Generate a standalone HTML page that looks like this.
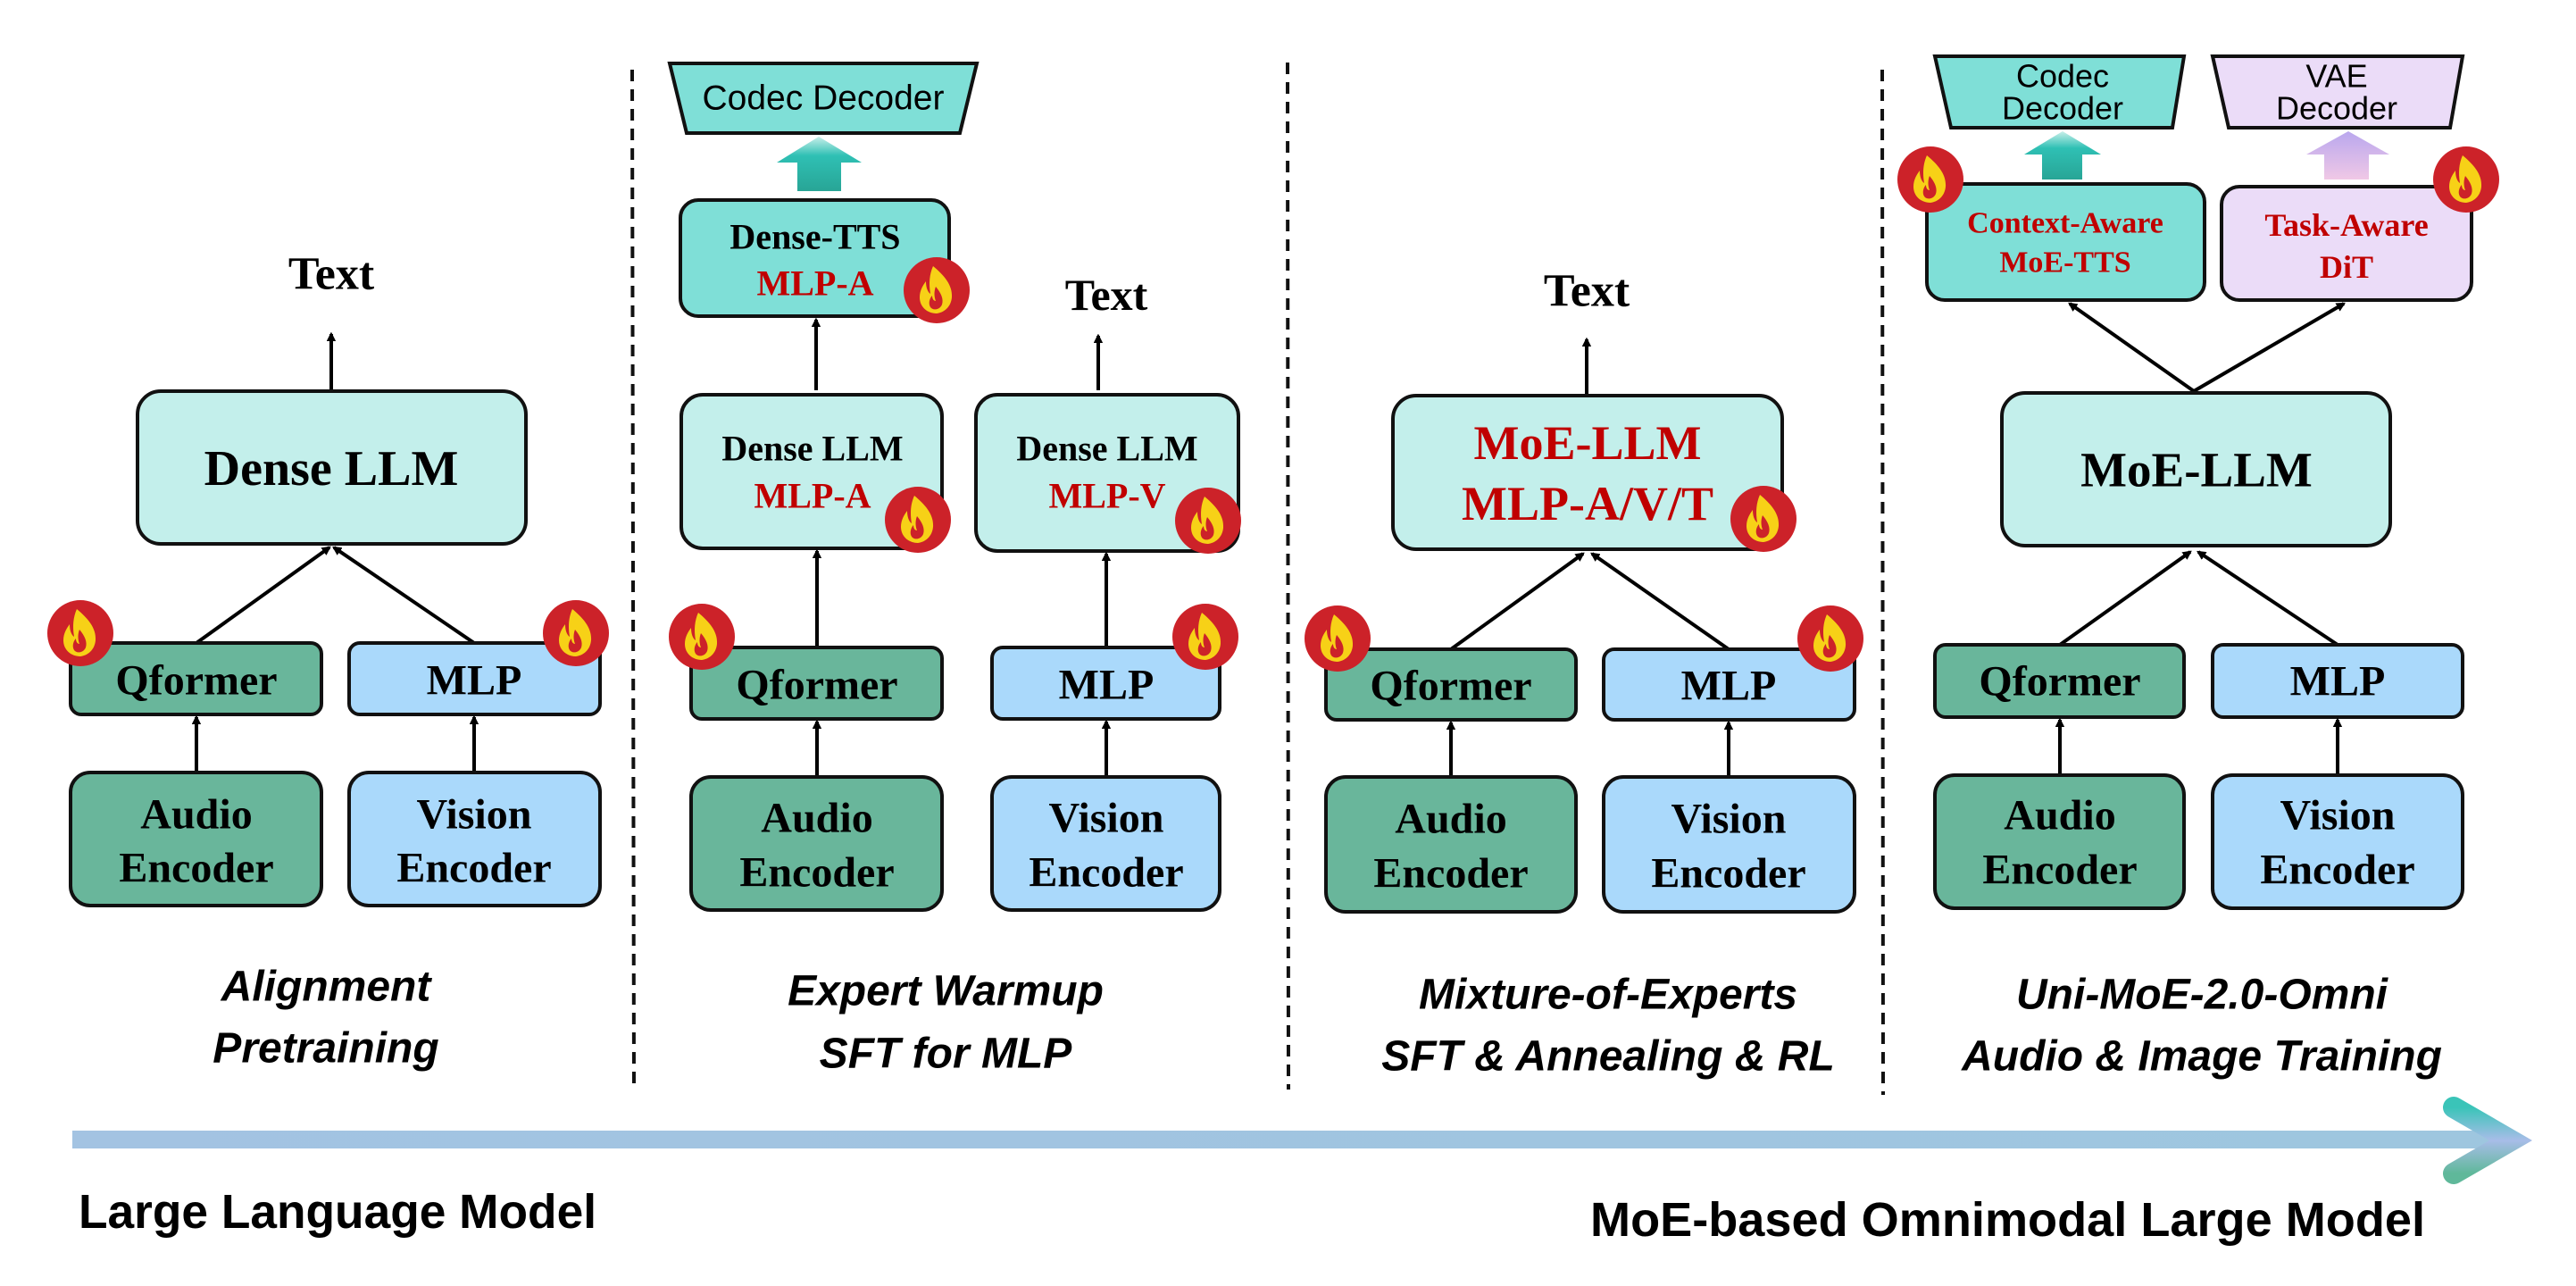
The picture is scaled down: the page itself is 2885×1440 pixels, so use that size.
<!DOCTYPE html>
<html><head><meta charset="utf-8"><style>html,body{margin:0;padding:0;background:#fff}svg{display:block}</style></head>
<body>
<svg width="2885" height="1440" viewBox="0 0 2885 1440" xmlns="http://www.w3.org/2000/svg">
<defs>
<g id="fire">
<circle cx="0" cy="0" r="37" fill="#cc2229"/>
<path d="M-4,-27 C8,-17 18,-6 17,8 C16,19 8,25 0,26 C-10,26 -19,19 -19,8 C-19,0 -15,-6 -12,-10 C-12,-3 -10,2 -7,4 C-9,-8 -8,-18 -4,-27 Z M10,-6 C13,0 14,6 12,12 C10,18 5,21 2,22 C7,16 9,7 10,-6 Z" fill="#f7d117"/>
<path d="M-1,-4 C5,3 8,10 6,16 C4,21 -2,23 -6,20 C-10,16 -8,9 -5,6 C-5,10 -3,12 -1,12 C-3,7 -3,1 -1,-4Z" fill="#cc2229"/>
</g>
<marker id="ah" markerWidth="10" markerHeight="10" refX="8" refY="5" orient="auto" markerUnits="userSpaceOnUse"><path d="M0,0 L10,5 L0,10 Z" fill="#000" transform="scale(1.3) translate(-2,-1.2)"/></marker>
<linearGradient id="tealUp" x1="0" y1="0" x2="0" y2="1"><stop offset="0" stop-color="#c8efea"/><stop offset="0.35" stop-color="#2fc0b4"/><stop offset="1" stop-color="#28a596"/></linearGradient>
<linearGradient id="purpUp" x1="0" y1="0" x2="0" y2="1"><stop offset="0" stop-color="#b9a7ee"/><stop offset="1" stop-color="#f0c8e6"/></linearGradient>
<linearGradient id="bar" x1="0" y1="0" x2="1" y2="0"><stop offset="0" stop-color="#a3c3e2"/><stop offset="1" stop-color="#9ec6df"/></linearGradient>
<linearGradient id="chev" x1="0" y1="0" x2="0" y2="1"><stop offset="0" stop-color="#3ac4b8"/><stop offset="0.5" stop-color="#a8bde8"/><stop offset="1" stop-color="#5fb89a"/></linearGradient>
</defs>
<style>
.b{stroke:#111;stroke-width:4}
.s{font-family:"Liberation Serif",serif;font-weight:bold;text-anchor:middle;dominant-baseline:central}
.c{font-family:"Liberation Sans",sans-serif;font-weight:bold;font-style:italic;text-anchor:middle;dominant-baseline:central;font-size:48px}
.d{font-family:"Liberation Sans",sans-serif;text-anchor:middle;dominant-baseline:central}
.ln{stroke:#000;stroke-width:4;fill:none}
</style>

<line x1="708" y1="78" x2="710" y2="1220" stroke="#111" stroke-width="4" stroke-dasharray="13,9"/>
<line x1="1442" y1="70" x2="1443" y2="1220" stroke="#111" stroke-width="4" stroke-dasharray="13,9"/>
<line x1="2108" y1="78" x2="2109" y2="1226" stroke="#111" stroke-width="4" stroke-dasharray="13,9"/>

<!-- Column 1 -->
<text x="371" y="307" class="s" font-size="52">Text</text>
<line x1="371" y1="438" x2="371" y2="374" class="ln" marker-end="url(#ah)"/>
<rect x="154" y="438" width="435" height="171" rx="26" fill="#c3efeb" class="b"/>
<text x="371" y="525" class="s" font-size="56">Dense LLM</text>
<line x1="220" y1="720" x2="369" y2="613" class="ln" marker-end="url(#ah)"/>
<line x1="531" y1="720" x2="374" y2="613" class="ln" marker-end="url(#ah)"/>
<rect x="79" y="720" width="281" height="80" rx="12" fill="#69b69b" class="b"/>
<text x="220" y="762" class="s" font-size="48">Qformer</text>
<rect x="391" y="720" width="281" height="80" rx="12" fill="#aad9fb" class="b"/>
<text x="531" y="762" class="s" font-size="48">MLP</text>
<line x1="220" y1="865" x2="220" y2="803" class="ln" marker-end="url(#ah)"/>
<line x1="531" y1="865" x2="531" y2="803" class="ln" marker-end="url(#ah)"/>
<rect x="79" y="865" width="281" height="149" rx="22" fill="#69b69b" class="b"/>
<text x="220" y="912" class="s" font-size="48">Audio</text><text x="220" y="972" class="s" font-size="48">Encoder</text>
<rect x="391" y="865" width="281" height="149" rx="22" fill="#aad9fb" class="b"/>
<text x="531" y="912" class="s" font-size="48">Vision</text><text x="531" y="972" class="s" font-size="48">Encoder</text>
<use href="#fire" x="90" y="709"/><use href="#fire" x="645" y="709"/>
<text x="365" y="1105" class="c">Alignment</text>
<text x="365" y="1174" class="c">Pretraining</text>

<!-- Column 2 -->
<polygon points="750,71 1094,71 1075,149 769,149" fill="#7fdfd7" class="b"/>
<text x="922" y="110" class="d" font-size="39">Codec Decoder</text>
<polygon points="870,182 917,153 965,182 942,182 942,214 893,214 893,182" fill="url(#tealUp)"/>
<rect x="762" y="224" width="301" height="130" rx="20" fill="#7fdfd7" class="b"/>
<text x="913" y="265" class="s" font-size="40">Dense-TTS</text>
<text x="913" y="317" class="s" font-size="40" fill="#c00000">MLP-A</text>
<use href="#fire" x="1049" y="325"/>
<line x1="914" y1="437" x2="914" y2="358" class="ln" marker-end="url(#ah)"/>
<rect x="763" y="442" width="292" height="172" rx="24" fill="#c3efeb" class="b"/>
<text x="910" y="502" class="s" font-size="40">Dense LLM</text>
<text x="910" y="555" class="s" font-size="40" fill="#c00000">MLP-A</text>
<use href="#fire" x="1028" y="582"/>
<text x="1239" y="330" class="s" font-size="50">Text</text>
<line x1="1230" y1="437" x2="1230" y2="376" class="ln" marker-end="url(#ah)"/>
<rect x="1093" y="442" width="294" height="175" rx="24" fill="#c3efeb" class="b"/>
<text x="1240" y="502" class="s" font-size="40">Dense LLM</text>
<text x="1240" y="555" class="s" font-size="40" fill="#c00000">MLP-V</text>
<use href="#fire" x="1353" y="583"/>
<line x1="915" y1="725" x2="915" y2="617" class="ln" marker-end="url(#ah)"/>
<line x1="1239" y1="725" x2="1239" y2="620" class="ln" marker-end="url(#ah)"/>
<rect x="774" y="725" width="281" height="80" rx="12" fill="#69b69b" class="b"/>
<text x="915" y="767" class="s" font-size="48">Qformer</text>
<rect x="1111" y="725" width="255" height="80" rx="12" fill="#aad9fb" class="b"/>
<text x="1239" y="767" class="s" font-size="48">MLP</text>
<line x1="915" y1="870" x2="915" y2="808" class="ln" marker-end="url(#ah)"/>
<line x1="1239" y1="870" x2="1239" y2="808" class="ln" marker-end="url(#ah)"/>
<rect x="774" y="870" width="281" height="149" rx="22" fill="#69b69b" class="b"/>
<text x="915" y="916" class="s" font-size="48">Audio</text><text x="915" y="977" class="s" font-size="48">Encoder</text>
<rect x="1111" y="870" width="255" height="149" rx="22" fill="#aad9fb" class="b"/>
<text x="1239" y="916" class="s" font-size="48">Vision</text><text x="1239" y="977" class="s" font-size="48">Encoder</text>
<use href="#fire" x="786" y="713"/><use href="#fire" x="1350" y="713"/>
<text x="1059" y="1110" class="c">Expert Warmup</text>
<text x="1059" y="1180" class="c">SFT for MLP</text>

<!-- Column 3 -->
<text x="1777" y="326" class="s" font-size="52">Text</text>
<line x1="1777" y1="442" x2="1777" y2="380" class="ln" marker-end="url(#ah)"/>
<rect x="1560" y="443" width="436" height="172" rx="26" fill="#c3efeb" class="b"/>
<text x="1778" y="496" class="s" font-size="54" fill="#c00000">MoE-LLM</text>
<text x="1778" y="564" class="s" font-size="54" fill="#c00000">MLP-A/V/T</text>
<use href="#fire" x="1975" y="581"/>
<line x1="1625" y1="727" x2="1773" y2="620" class="ln" marker-end="url(#ah)"/>
<line x1="1936" y1="727" x2="1783" y2="620" class="ln" marker-end="url(#ah)"/>
<rect x="1485" y="727" width="280" height="79" rx="12" fill="#69b69b" class="b"/>
<text x="1625" y="768" class="s" font-size="48">Qformer</text>
<rect x="1796" y="727" width="281" height="79" rx="12" fill="#aad9fb" class="b"/>
<text x="1936" y="768" class="s" font-size="48">MLP</text>
<line x1="1625" y1="870" x2="1625" y2="809" class="ln" marker-end="url(#ah)"/>
<line x1="1936" y1="870" x2="1936" y2="809" class="ln" marker-end="url(#ah)"/>
<rect x="1485" y="870" width="280" height="151" rx="22" fill="#69b69b" class="b"/>
<text x="1625" y="917" class="s" font-size="48">Audio</text><text x="1625" y="978" class="s" font-size="48">Encoder</text>
<rect x="1796" y="870" width="281" height="151" rx="22" fill="#aad9fb" class="b"/>
<text x="1936" y="917" class="s" font-size="48">Vision</text><text x="1936" y="978" class="s" font-size="48">Encoder</text>
<use href="#fire" x="1498" y="715"/><use href="#fire" x="2050" y="715"/>
<text x="1801" y="1114" class="c">Mixture-of-Experts</text>
<text x="1801" y="1183" class="c">SFT &amp; Annealing &amp; RL</text>

<!-- Column 4 -->
<polygon points="2167,63 2446,63 2433,143 2185,143" fill="#7fdfd7" class="b"/>
<text x="2310" y="85" class="d" font-size="36">Codec</text>
<text x="2310" y="121" class="d" font-size="36">Decoder</text>
<polygon points="2478,63 2758,63 2744,143 2496,143" fill="#ebdcf8" class="b"/>
<text x="2617" y="85" class="d" font-size="36">VAE</text>
<text x="2617" y="121" class="d" font-size="36">Decoder</text>
<polygon points="2267,173 2310,147 2353,173 2332,173 2332,201 2287,201 2287,173" fill="url(#tealUp)"/>
<polygon points="2583,173 2630,147 2676,173 2653,173 2653,201 2603,201 2603,173" fill="url(#purpUp)"/>
<rect x="2158" y="206" width="311" height="130" rx="20" fill="#7fdfd7" class="b"/>
<text x="2313" y="250" class="s" font-size="34" fill="#c00000">Context-Aware</text>
<text x="2313" y="294" class="s" font-size="34" fill="#c00000">MoE-TTS</text>
<rect x="2488" y="209" width="280" height="127" rx="20" fill="#ebdcf8" class="b"/>
<text x="2628" y="252" class="s" font-size="36" fill="#c00000">Task-Aware</text>
<text x="2628" y="299" class="s" font-size="36" fill="#c00000">DiT</text>
<use href="#fire" x="2162" y="201"/><use href="#fire" x="2762" y="201"/>
<line x1="2457" y1="438" x2="2318" y2="340" class="ln" marker-end="url(#ah)"/>
<line x1="2457" y1="438" x2="2625" y2="340" class="ln" marker-end="url(#ah)"/>
<rect x="2242" y="440" width="435" height="171" rx="26" fill="#c3efeb" class="b"/>
<text x="2460" y="526" class="s" font-size="55">MoE-LLM</text>
<line x1="2307" y1="722" x2="2453" y2="618" class="ln" marker-end="url(#ah)"/>
<line x1="2618" y1="722" x2="2462" y2="618" class="ln" marker-end="url(#ah)"/>
<rect x="2167" y="722" width="279" height="81" rx="12" fill="#69b69b" class="b"/>
<text x="2307" y="763" class="s" font-size="48">Qformer</text>
<rect x="2478" y="722" width="280" height="81" rx="12" fill="#aad9fb" class="b"/>
<text x="2618" y="763" class="s" font-size="48">MLP</text>
<line x1="2307" y1="868" x2="2307" y2="806" class="ln" marker-end="url(#ah)"/>
<line x1="2618" y1="868" x2="2618" y2="806" class="ln" marker-end="url(#ah)"/>
<rect x="2167" y="868" width="279" height="149" rx="22" fill="#69b69b" class="b"/>
<text x="2307" y="913" class="s" font-size="48">Audio</text><text x="2307" y="974" class="s" font-size="48">Encoder</text>
<rect x="2478" y="868" width="280" height="149" rx="22" fill="#aad9fb" class="b"/>
<text x="2618" y="913" class="s" font-size="48">Vision</text><text x="2618" y="974" class="s" font-size="48">Encoder</text>
<text x="2466" y="1114" class="c">Uni-MoE-2.0-Omni</text>
<text x="2466" y="1183" class="c">Audio &amp; Image Training</text>

<!-- bottom arrow -->
<rect x="81" y="1266" width="2710" height="20" fill="url(#bar)"/>
<path d="M2748,1240 L2812,1277 L2748,1314" fill="none" stroke="url(#chev)" stroke-width="24" stroke-linecap="round" stroke-linejoin="miter"/>
<text x="88" y="1357" font-family="Liberation Sans, sans-serif" font-weight="bold" font-size="54" dominant-baseline="central" textLength="580" lengthAdjust="spacingAndGlyphs">Large Language Model</text>
<text x="1781" y="1366" font-family="Liberation Sans, sans-serif" font-weight="bold" font-size="54" dominant-baseline="central" textLength="935" lengthAdjust="spacingAndGlyphs">MoE-based Omnimodal Large Model</text>
</svg>
</body></html>
